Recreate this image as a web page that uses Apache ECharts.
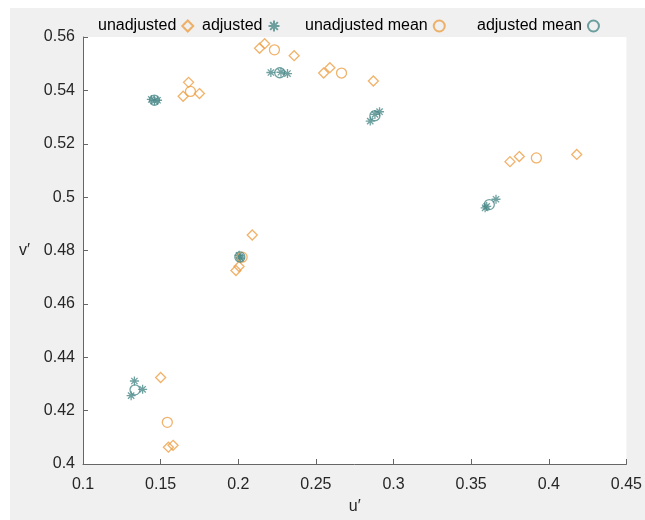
<!DOCTYPE html>
<html lang="en">
<head>
<meta charset="UTF-8" />
<title>u' v' scatter</title>
<script src="https://cdn.jsdelivr.net/npm/echarts@6/dist/echarts.min.js"></script>
<style>
    html, body { margin: 0; padding: 0; background: #fff; }
    #chart { width: 645px; height: 520px; }
</style>
</head>
<body>
<div id="chart"></div>
<script type="text/javascript">
    // values, [u', v']
    const unadjusted = [
        [0.168, 0.543], [0.1645, 0.5378], [0.175, 0.5388],
        [0.2137, 0.5558], [0.217, 0.5575], [0.236, 0.553],
        [0.255, 0.5465], [0.259, 0.5485], [0.287, 0.5435],
        [0.375, 0.5133], [0.381, 0.5152], [0.418, 0.516],
        [0.209, 0.4858], [0.1985, 0.4725], [0.2005, 0.474],
        [0.150, 0.4324], [0.155, 0.4063], [0.158, 0.407]
    ];
    const adjusted = [
        [0.144, 0.5366], [0.146, 0.5361], [0.148, 0.5363],
        [0.221, 0.5467], [0.2275, 0.5468], [0.2317, 0.5463],
        [0.285, 0.5285], [0.288, 0.531], [0.291, 0.532],
        [0.359, 0.496], [0.360, 0.4965], [0.366, 0.4992],
        [0.2005, 0.4782], [0.201, 0.4775], [0.2015, 0.477],
        [0.1331, 0.4311], [0.1384, 0.428], [0.131, 0.4256]
    ];
    const unadjustedMean = [
        [0.1692, 0.5396], [0.2233, 0.5552], [0.2665, 0.5465],
        [0.392, 0.5147], [0.2025, 0.4775], [0.1543, 0.4156]
    ];
    const adjustedMean = [
        [0.146, 0.5363], [0.2267, 0.5466], [0.288, 0.5305],
        [0.3617, 0.4972], [0.201, 0.4776], [0.1335, 0.4278]
    ];
    const seriesNames = ['unadjusted', 'adjusted', 'unadjusted mean', 'adjusted mean'];
    const legendLeft = [93, 197, 300, 472];

    const orange = '#EE9F45';
    const teal = '#4B8A8A';
    const asterisk = 'path://M10,0L10,20M0,10L20,10M3,3L17,17M3,17L17,3';
    const font = 'Liberation Sans';

    let chart = echarts.init(document.getElementById('chart'), null, { renderer: 'canvas' });

    function mkSeries(name, data, symbol, size, color) {
        return {
            name: name,
            type: 'scatter',
            data: data,
            symbol: symbol,
            symbolSize: size,
            itemStyle: { color: 'rgba(0,0,0,0)', borderColor: color, borderWidth: 1.3 },
            emphasis: { disabled: true }
        };
    }

    let legends = seriesNames.map((n, i) => ({
        data: [n],
        left: legendLeft[i],
        top: 13,
        align: 'right',
        itemGap: 0,
        itemWidth: 11,
        itemHeight: 11,
        selectedMode: false,
        textStyle: { fontFamily: font, fontSize: 16, color: '#000', padding: [0, 1, 0, 0] }
    }));

    let option = {
        animation: false,
        backgroundColor: '#fff',
        graphic: [{
            type: 'rect', z: -10, silent: true,
            shape: { x: 10, y: 8, width: 635, height: 512 },
            style: { fill: '#f0f0f0' }
        }],
        legend: legends,
        grid: {
            left: 83, top: 37, width: 550, height: 430,
            show: true, backgroundColor: '#fff', borderWidth: 0
        },
        xAxis: {
            type: 'value', min: 0.1, max: 0.45, interval: 0.05,
            name: 'u′', nameLocation: 'middle', nameGap: 35,
            nameTextStyle: { fontFamily: font, fontSize: 16, color: '#262626' },
            axisLine: { lineStyle: { color: '#666', width: 1 } },
            axisTick: { inside: true, length: 5, lineStyle: { color: '#666' } },
            axisLabel: { fontFamily: font, fontSize: 16, color: '#262626', margin: 13 },
            splitLine: { show: false }
        },
        yAxis: {
            type: 'value', min: 0.4, max: 0.56, interval: 0.02,
            name: 'v′', nameLocation: 'middle', nameGap: 53, nameRotate: 0,
            nameTextStyle: { fontFamily: font, fontSize: 16, color: '#262626' },
            axisLine: { show: true, lineStyle: { color: '#666', width: 1 } },
            axisTick: { show: true, inside: true, length: 5, lineStyle: { color: '#666' } },
            axisLabel: { fontFamily: font, fontSize: 16, color: '#262626', margin: 8 },
            splitLine: { show: false }
        },
        series: [
            mkSeries(seriesNames[0], unadjusted, 'diamond', 10, orange),
            mkSeries(seriesNames[1], adjusted, asterisk, 9, teal),
            mkSeries(seriesNames[2], unadjustedMean, 'circle', 10, orange),
            mkSeries(seriesNames[3], adjustedMean, 'circle', 10, teal)
        ]
    };
    chart.setOption(option);
</script>
</body>
</html>
